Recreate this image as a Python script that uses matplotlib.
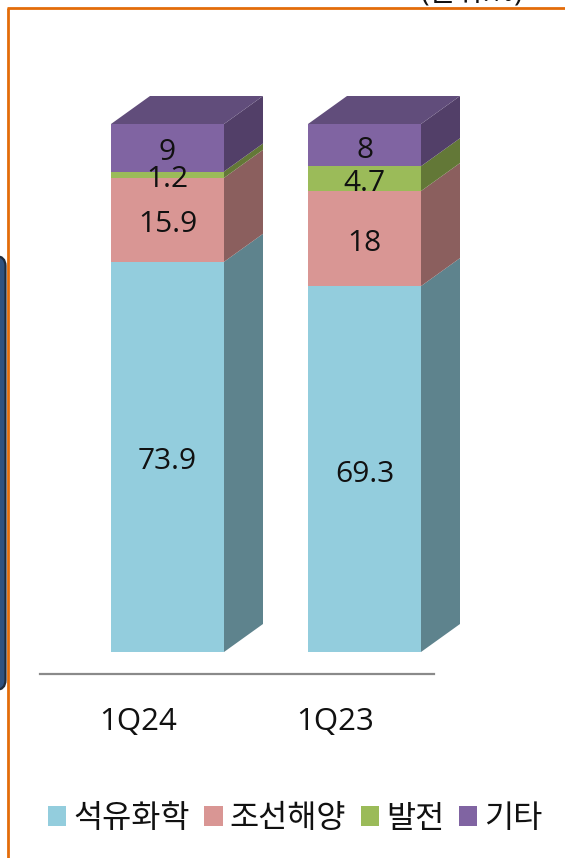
import matplotlib
matplotlib.use("Agg")
import matplotlib.pyplot as plt
from matplotlib.patches import Polygon, FancyBboxPatch, Patch

plt.rcParams['font.family'] = ['Open Sans', 'Noto Sans CJK KR', 'DejaVu Sans']

quarters = ['1Q24', '1Q23']
series_names = ['석유화학', '조선해양', '발전', '기타']
petrochem = [73.9, 69.3]
shipbuilding = [15.9, 18]
power = [1.2, 4.7]
others = [9, 8]
series_values = [petrochem, shipbuilding, power, others]
front_colors = ['#93CDDD', '#D99694', '#9BBB59', '#8064A2']
side_colors = ['#5E838D', '#8B5F5E', '#637837', '#523F68']
top_color = '#614D7B'

W, H = 565, 858
fig = plt.figure(figsize=(W / 100, H / 100), dpi=100)
fig.patch.set_facecolor('white')

# page furniture in pixel coordinates
bg = fig.add_axes([0, 0, 1, 1])
bg.set_xlim(0, W)
bg.set_ylim(H, 0)
bg.axis('off')
bg.add_patch(FancyBboxPatch((-30, 256), 35.5, 434, boxstyle='round,pad=0,rounding_size=10',
                            fc='#2F5280', ec='#1E2A3A', lw=1.6))
bg.plot([8, 8], [8, H], color='#E36C0A', lw=2.0, solid_capstyle='butt')
bg.plot([7, W], [8, 8], color='#E36C0A', lw=2.0, solid_capstyle='butt')
bg.text(472, -7, '(단위:%)', fontsize=21, ha='center', va='center', color='#111111', clip_on=True)

# chart axes: 197 px per category, at y=674 px; 100 units = 528 px
px_per_unit = 5.28
ax_left, ax_right, ax_bottom, ax_top = 40, 434, 674, 90
ax = fig.add_axes([ax_left / W, 1 - ax_bottom / H, (ax_right - ax_left) / W, (ax_bottom - ax_top) / H])
ax.patch.set_alpha(0)
ax.set_xlim(-0.5, 1.5)
ax.set_ylim(-(ax_bottom - 652) / px_per_unit, (652 - ax_top) / px_per_unit)
for s in ['left', 'right', 'top']:
    ax.spines[s].set_visible(False)
ax.spines['bottom'].set_color('#8A8A8A')
ax.spines['bottom'].set_linewidth(1.6)
ax.set_yticks([])
ax.set_xticks(range(len(quarters)))
ax.set_xticklabels(quarters, fontsize=22.5, color='#111111')
ax.tick_params(axis='x', length=0, pad=24)

cat_px = (ax_right - ax_left) / 2
bar_w = 113 / cat_px
shift = 29 / cat_px            # front face sits right of the category centre
dx = 39 / cat_px               # depth in x
dy = 28 / px_per_unit          # depth in y

for i in range(len(quarters)):
    x0 = i + shift - bar_w / 2
    x1 = x0 + bar_w
    base = 0
    for vals, fc, sc in zip(series_values, front_colors, side_colors):
        v = vals[i]
        ax.bar(x0, v, width=bar_w, bottom=base, align='edge', color=fc, lw=0, zorder=3)
        ax.add_patch(Polygon([(x1, base), (x1 + dx, base + dy), (x1 + dx, base + v + dy), (x1, base + v)],
                             closed=True, fc=sc, ec='none', zorder=2, clip_on=False))
        ax.text((x0 + x1) / 2, base + v / 2 - 0.95, f'{v:g}', ha='center', va='center',
                fontsize=21.5, color='#111111', zorder=5)
        base += v
    ax.add_patch(Polygon([(x0, base), (x0 + dx, base + dy), (x1 + dx, base + dy), (x1, base)],
                         closed=True, fc=top_color, ec='none', zorder=2, clip_on=False))

handles = [Patch(fc=c, ec='none') for c in front_colors]
leg = fig.legend(handles, series_names, ncol=4, frameon=False, fontsize=22.8,
                 loc='center left', bbox_to_anchor=(48 / W, 1 - 819 / H), bbox_transform=fig.transFigure,
                 handlelength=0.58, handleheight=0.58, handletextpad=0.22, columnspacing=0.46,
                 labelcolor='#111111', borderpad=0, borderaxespad=0)

fig.savefig('out.png', dpi=100)
